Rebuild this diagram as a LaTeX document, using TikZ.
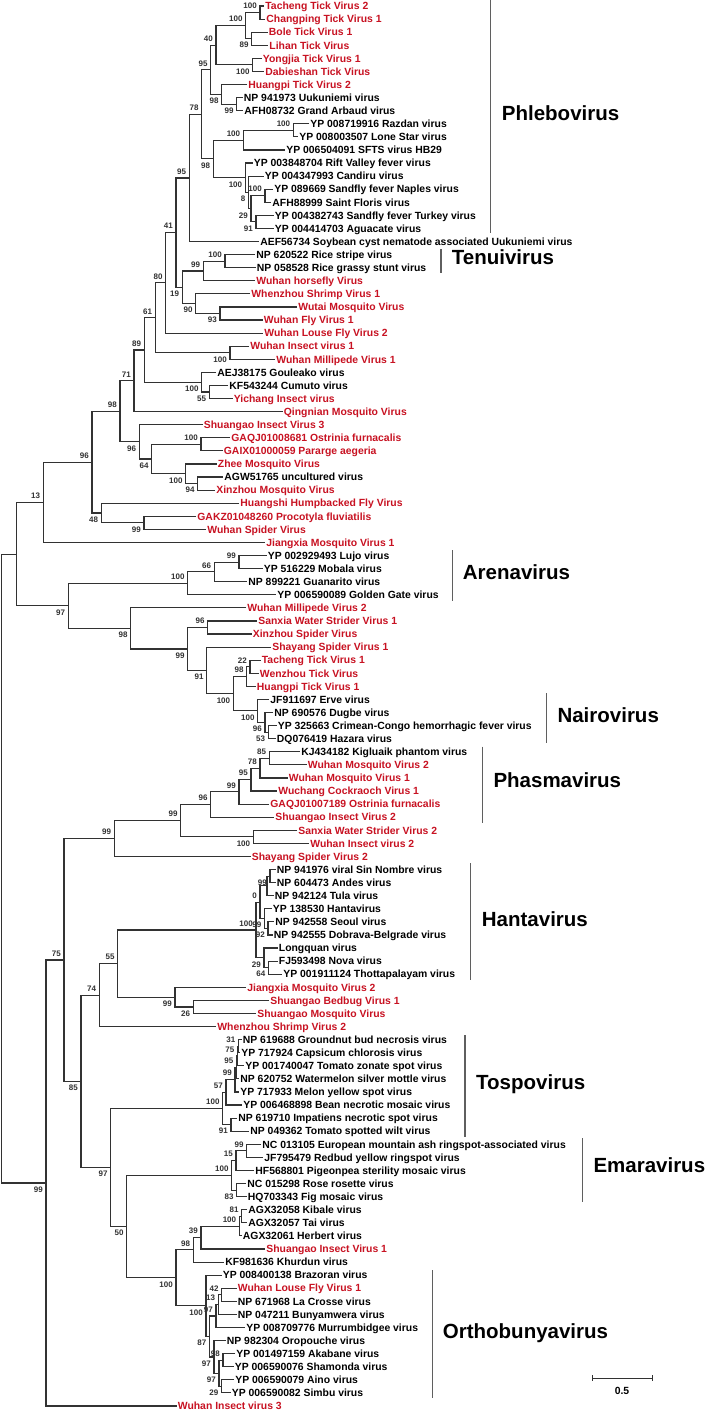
\documentclass[tikz,border=0pt]{standalone}
\usepackage{fontspec}
\setmainfont{Liberation Sans}
\usetikzlibrary{calc}
\definecolor{vred}{RGB}{200,18,34}
\definecolor{brc}{RGB}{50,50,50}
\definecolor{barc}{RGB}{95,95,95}
\tikzset{
  br/.style={draw=brc,line width=1.15pt},
  lft/.style={font=\fontsize{10.4}{12}\selectfont\bfseries,inner xsep=1.2pt,inner ysep=0pt,text height=7.5pt,text depth=0pt},
  bs/.style={font=\fontsize{8}{9}\selectfont\bfseries,inner sep=1pt,text=brc},
  cladebar/.style={draw=barc,line width=1.5pt},
  clade/.style={font=\fontsize{20.5}{24}\selectfont\bfseries,inner sep=0pt},
}
\newcommand\lf[4]{%
  \coordinate (#1) at (#2,{6+(#3-1)*13.084});
  \node[lft,anchor=west,text=black] (T#1) at (#1) {#4};}
\newcommand\lfr[4]{%
  \coordinate (#1) at (#2,{6+(#3-1)*13.084});
  \node[lft,anchor=west,text=vred] (T#1) at (#1) {#4};}
\newcommand\nd[6]{%
  \path let \p1=(#3), \p2=(#4) in coordinate (#1) at ({#2pt},{0.5*\y1+0.5*\y2});
  \draw[br] (#3) -| (#1) |- (#4);
  \if#6a\node[bs,anchor=south east] (B#1) at ([xshift=-2pt,yshift=2.5pt]#1) {#5};%
  \else\node[bs,anchor=north east] (B#1) at ([xshift=-2pt,yshift=-2.5pt]#1) {#5};\fi}
\begin{document}
\begin{tikzpicture}[x=1pt,y=-1pt]
\useasboundingbox[fill=white] (0,0) rectangle (708,1413);
% leaves
\lfr{L1}{264}{1}{Tacheng Tick Virus 2}
\lfr{L2}{265}{2}{Changping Tick Virus 1}
\lfr{L3}{267.5}{3}{Bole Tick Virus 1}
\lfr{L4}{268}{4}{Lihan Tick Virus}
\lfr{L5}{261.5}{5}{Yongjia Tick Virus 1}
\lfr{L6}{264}{6}{Dabieshan Tick Virus}
\lfr{L7}{247}{7}{Huangpi Tick Virus 2}
\lf{L8}{242.5}{8}{NP 941973 Uukuniemi virus}
\lf{L9}{243}{9}{AFH08732 Grand Arbaud virus}
\lf{L10}{309}{10}{YP 008719916 Razdan virus}
\lf{L11}{298}{11}{YP 008003507 Lone Star virus}
\lf{L12}{285}{12}{YP 006504091 SFTS virus HB29}
\lf{L13}{252.5}{13}{YP 003848704 Rift Valley fever virus}
\lf{L14}{263.5}{14}{YP 004347993 Candiru virus}
\lf{L15}{273}{15}{YP 089669 Sandfly fever Naples virus}
\lf{L16}{271}{16}{AFH88999 Saint Floris virus}
\lf{L17}{273.5}{17}{YP 004382743 Sandfly fever Turkey virus}
\lf{L18}{273.5}{18}{YP 004414703 Aguacate virus}
\lf{L19}{259}{19}{AEF56734 Soybean cyst nematode associated Uukuniemi virus}
\lf{L20}{255}{20}{NP 620522 Rice stripe virus}
\lf{L21}{255.5}{21}{NP 058528 Rice grassy stunt virus}
\lfr{L22}{255}{22}{Wuhan horsefly Virus}
\lfr{L23}{250}{23}{Whenzhou Shrimp Virus 1}
\lfr{L24}{297}{24}{Wutai Mosquito Virus}
\lfr{L25}{262.5}{25}{Wuhan Fly Virus 1}
\lfr{L26}{263}{26}{Wuhan Louse Fly Virus 2}
\lfr{L27}{249}{27}{Wuhan Insect virus 1}
\lfr{L28}{275}{28}{Wuhan Millipede Virus 1}
\lf{L29}{216}{29}{AEJ38175 Gouleako virus}
\lf{L30}{228}{30}{KF543244 Cumuto virus}
\lfr{L31}{232.5}{31}{Yichang Insect virus}
\lfr{L32}{282.5}{32}{Qingnian Mosquito Virus}
\lfr{L33}{202.5}{33}{Shuangao Insect Virus 3}
\lfr{L34}{230}{34}{GAQJ01008681 Ostrinia furnacalis}
\lfr{L35}{222.5}{35}{GAIX01000059 Pararge aegeria}
\lfr{L36}{216.5}{36}{Zhee Mosquito Virus}
\lf{L37}{223}{37}{AGW51765 uncultured virus}
\lfr{L38}{215}{38}{Xinzhou Mosquito Virus}
\lfr{L39}{239}{39}{Huangshi Humpbacked Fly Virus}
\lfr{L40}{196}{40}{GAKZ01048260 Procotyla fluviatilis}
\lfr{L41}{206}{41}{Wuhan Spider Virus}
\lfr{L42}{265}{42}{Jiangxia Mosquito Virus 1}
\lf{L43}{266.5}{43}{YP 002929493 Lujo virus}
\lf{L44}{262.5}{44}{YP 516229 Mobala virus}
\lf{L45}{247}{45}{NP 899221 Guanarito virus}
\lf{L46}{276}{46}{YP 006590089 Golden Gate virus}
\lfr{L47}{246}{47}{Wuhan Millipede Virus 2}
\lfr{L48}{257}{48}{Sanxia Water Strider Virus 1}
\lfr{L49}{251.5}{49}{Xinzhou Spider Virus}
\lfr{L50}{271}{50}{Shayang Spider Virus 1}
\lfr{L51}{260.5}{51}{Tacheng Tick Virus 1}
\lfr{L52}{258.5}{52}{Wenzhou Tick Virus}
\lfr{L53}{255.5}{53}{Huangpi Tick Virus 1}
\lf{L54}{269}{54}{JF911697 Erve virus}
\lf{L55}{273}{55}{NP 690576 Dugbe virus}
\lf{L56}{276.5}{56}{YP 325663 Crimean-Congo hemorrhagic fever virus}
\lf{L57}{275.5}{57}{DQ076419 Hazara virus}
\lf{L58}{300}{58}{KJ434182 Kigluaik phantom virus}
\lfr{L59}{306.5}{59}{Wuhan Mosquito Virus 2}
\lfr{L60}{287.5}{60}{Wuhan Mosquito Virus 1}
\lfr{L61}{277}{61}{Wuchang Cockraoch Virus 1}
\lfr{L62}{269}{62}{GAQJ01007189 Ostrinia furnacalis}
\lfr{L63}{274}{63}{Shuangao Insect Virus 2}
\lfr{L64}{297}{64}{Sanxia Water Strider Virus 2}
\lfr{L65}{309}{65}{Wuhan Insect virus 2}
\lfr{L66}{250.5}{66}{Shayang Spider Virus 2}
\lf{L67}{275.5}{67}{NP 941976 viral Sin Nombre virus}
\lf{L68}{275.5}{68}{NP 604473 Andes virus}
\lf{L69}{273.5}{69}{NP 942124 Tula virus}
\lf{L70}{271.5}{70}{YP 138530 Hantavirus}
\lf{L71}{274}{71}{NP 942558 Seoul virus}
\lf{L72}{272.5}{72}{NP 942555 Dobrava-Belgrade virus}
\lf{L73}{277.5}{73}{Longquan virus}
\lf{L74}{277.5}{74}{FJ593498 Nova virus}
\lf{L75}{282}{75}{YP 001911124 Thottapalayam virus}
\lfr{L76}{246}{76}{Jiangxia Mosquito Virus 2}
\lfr{L77}{269}{77}{Shuangao Bedbug Virus 1}
\lfr{L78}{256}{78}{Shuangao Mosquito Virus}
\lfr{L79}{216}{79}{Whenzhou Shrimp Virus 2}
\lf{L80}{241.5}{80}{NP 619688 Groundnut bud necrosis virus}
\lf{L81}{240}{81}{YP 717924 Capsicum chlorosis virus}
\lf{L82}{244}{82}{YP 001740047 Tomato zonate spot virus}
\lf{L83}{239}{83}{NP 620752 Watermelon silver mottle virus}
\lf{L84}{239}{84}{YP 717933 Melon yellow spot virus}
\lf{L85}{242}{85}{YP 006468898 Bean necrotic mosaic virus}
\lf{L86}{237}{86}{NP 619710 Impatiens necrotic spot virus}
\lf{L87}{249}{87}{NP 049362 Tomato spotted wilt virus}
\lf{L88}{261}{88}{NC 013105 European mountain ash ringspot-associated virus}
\lf{L89}{263}{89}{JF795479 Redbud yellow ringspot virus}
\lf{L90}{254}{90}{HF568801 Pigeonpea sterility mosaic virus}
\lf{L91}{246}{91}{NC 015298 Rose rosette virus}
\lf{L92}{246.5}{92}{HQ703343 Fig mosaic virus}
\lf{L93}{247}{93}{AGX32058 Kibale virus}
\lf{L94}{247}{94}{AGX32057 Tai virus}
\lf{L95}{241.5}{95}{AGX32061 Herbert virus}
\lfr{L96}{265}{96}{Shuangao Insect Virus 1}
\lf{L97}{224}{97}{KF981636 Khurdun virus}
\lf{L98}{221.5}{98}{YP 008400138 Brazoran virus}
\lfr{L99}{236.5}{99}{Wuhan Louse Fly Virus 1}
\lf{L100}{236.5}{100}{NP 671968 La Crosse virus}
\lf{L101}{236.5}{101}{NP 047211 Bunyamwera virus}
\lf{L102}{245}{102}{YP 008709776 Murrumbidgee virus}
\lf{L103}{225.5}{103}{NP 982304 Oropouche virus}
\lf{L104}{235}{104}{YP 001497159 Akabane virus}
\lf{L105}{233.5}{105}{YP 006590076 Shamonda virus}
\lf{L106}{234}{106}{YP 006590079 Aino virus}
\lf{L107}{230.5}{107}{YP 006590082 Simbu virus}
\lfr{L108}{176.5}{108}{Wuhan Insect virus 3}
% internal nodes
\nd{A12}{260}{L1}{L2}{100}{a}
\nd{A34}{251.7}{L3}{L4}{89}{b}
\nd{A14}{245.7}{A12}{A34}{100}{a}
\nd{A56}{252.7}{L5}{L6}{100}{b}
\nd{A16}{216}{A14}{A56}{40}{a}
\nd{A89}{236.7}{L8}{L9}{99}{b}
\nd{A79}{221.7}{L7}{A89}{98}{b}
\nd{A19}{210.7}{A16}{A79}{95}{a}
\nd{A1011}{293.3}{L10}{L11}{100}{a}
\nd{A1012}{243.3}{A1011}{L12}{100}{a}
\nd{A1516}{265}{L15}{L16}{100}{a}
\nd{A1718}{256}{L17}{L18}{91}{b}
\nd{A1518}{251}{A1516}{A1718}{29}{b}
\nd{A1418}{248.5}{L14}{A1518}{8}{b}
\nd{A1318}{245.3}{L13}{A1418}{100}{b}
\nd{A1018}{213.3}{A1012}{A1318}{98}{b}
\nd{A118}{201.7}{A19}{A1018}{78}{a}
\nd{A119}{189.3}{A118}{L19}{95}{a}
\nd{A2021}{225}{L20}{L21}{100}{a}
\nd{A2022}{203.3}{A2021}{L22}{99}{a}
\nd{A2425}{220}{L24}{L25}{93}{b}
\nd{A2325}{195.7}{L23}{A2425}{90}{b}
\nd{A2025}{182.3}{A2022}{A2325}{19}{b}
\nd{A41}{176}{A119}{A2025}{41}{a}
\nd{A80}{165.7}{A41}{L26}{80}{a}
\nd{A2728}{230}{L27}{L28}{100}{b}
\nd{A61}{155.3}{A80}{A2728}{61}{a}
\nd{A3031}{209.3}{L30}{L31}{55}{b}
\nd{A2931}{201.7}{L29}{A3031}{100}{b}
\nd{A89n}{144.3}{A61}{A2931}{89}{a}
\nd{A71}{134}{A89n}{L32}{71}{a}
\nd{A3435}{201}{L34}{L35}{100}{a}
\nd{A3738}{197.7}{L37}{L38}{94}{b}
\nd{A3638}{185.7}{L36}{A3738}{100}{b}
\nd{A64}{151.7}{A3435}{A3638}{64}{b}
\nd{A96}{139.3}{L33}{A64}{96}{b}
\nd{A98}{120}{A71}{A96}{98}{a}
\nd{A4041}{144}{L40}{L41}{99}{b}
\nd{A48}{101.3}{L39}{A4041}{48}{b}
\nd{A96b}{92}{A98}{A48}{96}{a}
\nd{A13}{43.3}{A96b}{L42}{13}{a}
\nd{A4344}{239}{L43}{L44}{99}{a}
\nd{A4345}{214.3}{A4344}{L45}{66}{a}
\nd{A4346}{187.7}{A4345}{L46}{100}{a}
\nd{A4849}{207.7}{L48}{L49}{96}{a}
\nd{A5152}{250}{L51}{L52}{22}{a}
\nd{A5153}{246.7}{A5152}{L53}{98}{a}
\nd{A5657}{268.3}{L56}{L57}{53}{b}
\nd{A5557}{265}{L55}{A5657}{96}{b}
\nd{A5457}{257.7}{L54}{A5557}{100}{b}
\nd{A5157}{233.3}{A5153}{A5457}{100}{b}
\nd{A91}{206.7}{L50}{A5157}{91}{b}
\nd{A99}{187.7}{A4849}{A91}{99}{b}
\nd{A98b}{130.7}{L47}{A99}{98}{b}
\nd{A97}{68.3}{A4346}{A98b}{97}{b}
\nd{Aup}{16.7}{A13}{A97}{}{a}
\nd{A5859}{269.3}{L58}{L59}{85}{a}
\nd{A5860}{260}{A5859}{L60}{78}{a}
\nd{A5861}{251}{A5860}{L61}{95}{a}
\nd{A5862}{239}{A5861}{L62}{99}{a}
\nd{A5863}{210.7}{A5862}{L63}{96}{a}
\nd{A6465}{253.3}{L64}{L65}{100}{b}
\nd{A99c}{180.7}{A5863}{A6465}{99}{a}
\nd{A99d}{114.3}{A99c}{L66}{99}{a}
\nd{A6768}{270}{L67}{L68}{99}{b}
\nd{A6769}{267}{A6768}{L69}{}{b}
\nd{A7172}{268}{L71}{L72}{92}{b}
\nd{A7072}{264.5}{L70}{A7172}{99}{b}
\nd{A6772}{260}{A6769}{A7072}{0}{a}
\nd{A7475}{268.5}{L74}{L75}{64}{b}
\nd{A7375}{264}{L73}{A7475}{29}{b}
\nd{A6775}{256}{A6772}{A7375}{100}{a}
\nd{A7778}{193.3}{L77}{L78}{26}{b}
\nd{A7678}{175}{L76}{A7778}{99}{b}
\nd{A55}{117.7}{A6775}{A7678}{55}{a}
\nd{A74}{99.3}{A55}{L79}{74}{a}
\nd{A8081}{238.5}{L80}{L81}{31}{a}
\nd{A8082}{237.5}{A8081}{L82}{75}{a}
\nd{A8083}{236.5}{A8082}{L83}{95}{a}
\nd{A8084}{235}{A8083}{L84}{99}{a}
\nd{A8085}{226}{A8084}{L85}{57}{a}
\nd{A8687}{231}{L86}{L87}{91}{b}
\nd{A8087}{222.7}{A8085}{A8687}{100}{a}
\nd{A8889}{246.7}{L88}{L89}{99}{a}
\nd{A8890}{236}{A8889}{L90}{15}{a}
\nd{A9192}{236.7}{L91}{L92}{83}{b}
\nd{A8892}{231.7}{A8890}{A9192}{100}{a}
\nd{A9394}{241.7}{L93}{L94}{81}{a}
\nd{A9395}{239.3}{A9394}{L95}{100}{a}
\nd{A39}{201}{A9395}{L96}{39}{a}
\nd{A98o}{193.3}{A39}{L97}{98}{a}
\nd{A99100}{221.7}{L99}{L100}{42}{a}
\nd{A99101}{218.3}{A99100}{L101}{13}{a}
\nd{A99102}{216}{A99101}{L102}{97}{a}
\nd{A104105}{223}{L104}{L105}{98}{a}
\nd{A106107}{221.5}{L106}{L107}{29}{b}
\nd{A104107}{219}{A104105}{A106107}{97}{b}
\nd{A103107}{214}{L103}{A104107}{97}{b}
\nd{A99107}{209.5}{A99102}{A103107}{87}{b}
\nd{A98107}{206}{L98}{A99107}{100}{b}
\nd{A100o}{176}{A98o}{A98107}{100}{b}
\nd{A50}{126.7}{A8892}{A100o}{50}{b}
\nd{A97t}{110.7}{A8087}{A50}{97}{b}
\nd{A85}{81}{A74}{A97t}{85}{b}
\nd{A75}{64}{A99d}{A85}{75}{a}
\nd{A99r}{46}{A75}{L108}{99}{b}
\nd{root}{1.5}{Aup}{A99r}{}{a}
% clade bars and names
\draw[cladebar] (490.7,0) -- (490.7,233);
\node[clade,anchor=base west] (cPhle) at (501.7,120) {Phlebovirus};
\draw[cladebar] (441,249) -- (441,273);
\node[clade,anchor=base west] (cTenu) at (451.7,264.3) {Tenuivirus};
\draw[cladebar] (452.3,550) -- (452.3,600.7);
\node[clade,anchor=base west] (cAren) at (462.7,579) {Arenavirus};
\draw[cladebar] (546.7,693) -- (546.7,743);
\node[clade,anchor=base west] (cNair) at (557.3,722.7) {Nairovirus};
\draw[cladebar] (482.3,746.7) -- (482.3,823.3);
\node[clade,anchor=base west] (cPhas) at (493.3,787.3) {Phasmavirus};
\draw[cladebar] (470.7,863.3) -- (470.7,980);
\node[clade,anchor=base west] (cHant) at (481.7,926.7) {Hantavirus};
\draw[cladebar] (465,1035) -- (465,1136.7);
\node[clade,anchor=base west] (cTosp) at (476,1089.3) {Tospovirus};
\draw[cladebar] (582.3,1138.3) -- (582.3,1201.7);
\node[clade,anchor=base west] (cEmar) at (593.3,1172) {Emaravirus};
\draw[cladebar] (432.3,1270) -- (432.3,1398.3);
\node[clade,anchor=base west] (cOrth) at (442.7,1338) {Orthobunyavirus};
% scale bar
\coordinate (sbA) at (592,1378);
\coordinate (sbB) at (652,1378);
\draw[br,line width=1pt] (sbA) -- (sbB);
\draw[br,line width=1pt] ([yshift=3pt]sbA) -- ([yshift=-3pt]sbA);
\draw[br,line width=1pt] ([yshift=3pt]sbB) -- ([yshift=-3pt]sbB);
\node[lft,anchor=north,text=black] (sbT) at (622,1387) {0.5};
\end{tikzpicture}
\end{document}
